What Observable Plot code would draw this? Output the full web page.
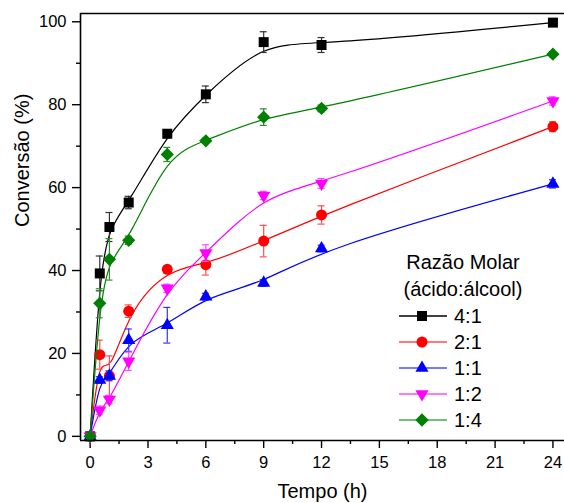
<!DOCTYPE html>
<html><head><meta charset="utf-8">
<script src="https://cdn.jsdelivr.net/npm/d3@7"></script>
<script src="https://cdn.jsdelivr.net/npm/@observablehq/plot@0.6"></script>
<style>
body{margin:0;background:#fff;font-family:"Liberation Sans",Arial,sans-serif}
#wrap{position:relative;width:564px;height:503px;overflow:hidden}
#legend{position:absolute;left:398px;top:249px;font-size:20px;color:#000;line-height:27px}
#legend .title{text-align:center;width:130px}
#legend .row{display:flex;align-items:center;height:26px;line-height:26px}
#legend .row svg{display:block;margin-right:6px}
</style></head><body><div id="wrap"></div>
<script>
// ---- data ----
const times = [0, 0.5, 1, 2, 4, 6, 9, 12, 24];
const seriesNames = ["4:1", "2:1", "1:1", "1:2", "1:4"];
const conv41 = [0, 39.3, 50.5, 56.4, 73.0, 82.5, 95.1, 94.4, 99.8];
const err41  = [0, 4.2, 3.5, 1.5, 1.0, 2.0, 2.5, 1.8, 0.6];
const conv21 = [0, 19.7, 14.6, 30.2, 40.3, 41.4, 47.1, 53.4, 74.7];
const err21  = [0, 3.5, 4.8, 1.5, 0.6, 2.5, 3.8, 2.2, 1.2];
const conv11 = [0, 13.6, 14.6, 23.2, 26.8, 33.7, 37.0, 45.3, 60.9];
const err11  = [0, 0.8, 1.2, 2.7, 4.3, 0.8, 0.8, 0.8, 1.0];
const conv12 = [0, 6.3, 8.9, 18.1, 35.7, 44.2, 58.1, 61.0, 80.9];
const err12  = [0, 1.0, 1.0, 2.2, 1.0, 2.0, 1.0, 1.2, 1.0];
const conv14 = [0, 32.1, 42.7, 47.3, 68.0, 71.3, 77.0, 79.1, 92.2];
const err14  = [0, 3.5, 5.0, 1.0, 1.7, 0.6, 2.0, 0.8, 0.6];
const xTicks = [0, 3, 6, 9, 12, 15, 18, 21, 24];
const xMinor = [1.5, 4.5, 7.5, 10.5, 13.5, 16.5, 19.5, 22.5];
const yTicks = [0, 20, 40, 60, 80, 100];
const yMinor = [10, 30, 50, 70, 90];
const xTitle = "Tempo (h)";
const yTitle = "Conversão (%)";
const legendTitle1 = "Razão Molar";
const legendTitle2 = "(ácido:álcool)";

// ---- styles ----
const colors = ["#000000", "#ff0000", "#0000ff", "#ff00ff", "#008000"];
const errColors = ["#333333", "#ff4d4d", "#3333ff", "#ff4dff", "#2e8b2e"];
const square = {draw(c, size){ const s = Math.sqrt(size); c.rect(-s/2, -s/2, s, s); }};
const circle = {draw(c, size){ const r = Math.sqrt(size/Math.PI); c.moveTo(r, 0); c.arc(0, 0, r, 0, 2*Math.PI); }};
const triUp = {draw(c, size){ const s = Math.sqrt(4*size/Math.sqrt(3)), h = s*Math.sqrt(3)/2;
  c.moveTo(0, -2*h/3); c.lineTo(s/2, h/3); c.lineTo(-s/2, h/3); c.closePath(); }};
const triDown = {draw(c, size){ const s = Math.sqrt(4*size/Math.sqrt(3)), h = s*Math.sqrt(3)/2;
  c.moveTo(0, 2*h/3); c.lineTo(s/2, -h/3); c.lineTo(-s/2, -h/3); c.closePath(); }};
const diamond = {draw(c, size){ const d = Math.sqrt(2*size);
  c.moveTo(0, -d/2); c.lineTo(d/2, 0); c.lineTo(0, d/2); c.lineTo(-d/2, 0); c.closePath(); }};
const symbols = [square, circle, triUp, triDown, diamond];
const areas = [100, 95, 75, 75, 88];

const convs = [conv41, conv21, conv11, conv12, conv14];
const errs = [err41, err21, err11, err12, err14];
const tables = seriesNames.map((name, i) => times.map((t, j) => ({t, v: convs[i][j], e: errs[i][j], name})));

const marks = [];
tables.forEach((data, i) => {
  marks.push(Plot.line(data, {x: "t", y: "v", curve: "basis", stroke: colors[i], strokeWidth: 1.2}));
  const eb = data.filter(d => d.e > 0);
  marks.push(Plot.ruleX(eb, {x: "t", y1: d => d.v - d.e, y2: d => d.v + d.e, stroke: errColors[i], strokeWidth: 1.2}));
  marks.push(Plot.ruleY(eb, {y: d => d.v + d.e, x1: "t", x2: "t", insetLeft: -3.5, insetRight: -3.5, stroke: errColors[i], strokeWidth: 1.2}));
  marks.push(Plot.ruleY(eb, {y: d => d.v - d.e, x1: "t", x2: "t", insetLeft: -3.5, insetRight: -3.5, stroke: errColors[i], strokeWidth: 1.2}));
  marks.push(Plot.dot(data, {x: "t", y: "v", symbol: () => symbols[i], r: Math.sqrt(areas[i]/Math.PI), fill: colors[i], stroke: "none"}));
});

const chart = Plot.plot({
  width: 564, height: 503,
  marginLeft: 80, marginRight: 0, marginTop: 13, marginBottom: 63,
  style: {fontFamily: "'Liberation Sans', Arial, sans-serif", fontSize: "16.5px", background: "#fff", color: "#000"},
  x: {domain: [-0.5, 24.6]},
  y: {domain: [-1, 102]},
  symbol: {type: "identity"},
  marks: [
    Plot.axisX({ticks: xTicks, tickSize: 8, tickPadding: 8, label: null, fontSize: 16.5, strokeWidth: 1.4}),
    Plot.axisX({ticks: xMinor, tickSize: 4, tickFormat: () => "", label: null, strokeWidth: 1.4}),
    Plot.axisY({ticks: yTicks, tickSize: 8, tickPadding: 6, label: null, fontSize: 16.5, strokeWidth: 1.4}),
    Plot.axisY({ticks: yMinor, tickSize: 4, tickFormat: () => "", label: null, strokeWidth: 1.4}),
    ...marks,
    Plot.ruleX([-0.5], {stroke: "#000", strokeWidth: 1.6}),
    Plot.ruleY([-1], {stroke: "#000", strokeWidth: 1.6}),
    Plot.ruleY([102], {stroke: "#000", strokeWidth: 1.6}),
    Plot.text([xTitle], {text: d => d, frameAnchor: "bottom", dy: 57, fontSize: 20}),
    Plot.text([yTitle], {text: d => d, frameAnchor: "left", dx: -58, rotate: -90, fontSize: 20})
  ]
});
const wrap = document.getElementById("wrap");
wrap.appendChild(chart);

// ---- legend ----
const lg = document.createElement("div");
lg.id = "legend";
lg.innerHTML = `<div class="title">${legendTitle1}<br>${legendTitle2}</div>`;
seriesNames.forEach((name, i) => {
  const row = document.createElement("div");
  row.className = "row";
  const path = d3.symbol(symbols[i], areas[i])();
  row.innerHTML = `<svg width="50" height="26"><line x1="1" x2="49" y1="13" y2="13" stroke="${colors[i]}" stroke-width="1.4" stroke-opacity="${i === 0 ? 1 : 0.7}"/><path d="${path}" transform="translate(24,13)" fill="${colors[i]}"/></svg><span>${name}</span>`;
  lg.appendChild(row);
});
wrap.appendChild(lg);
</script></body></html>
